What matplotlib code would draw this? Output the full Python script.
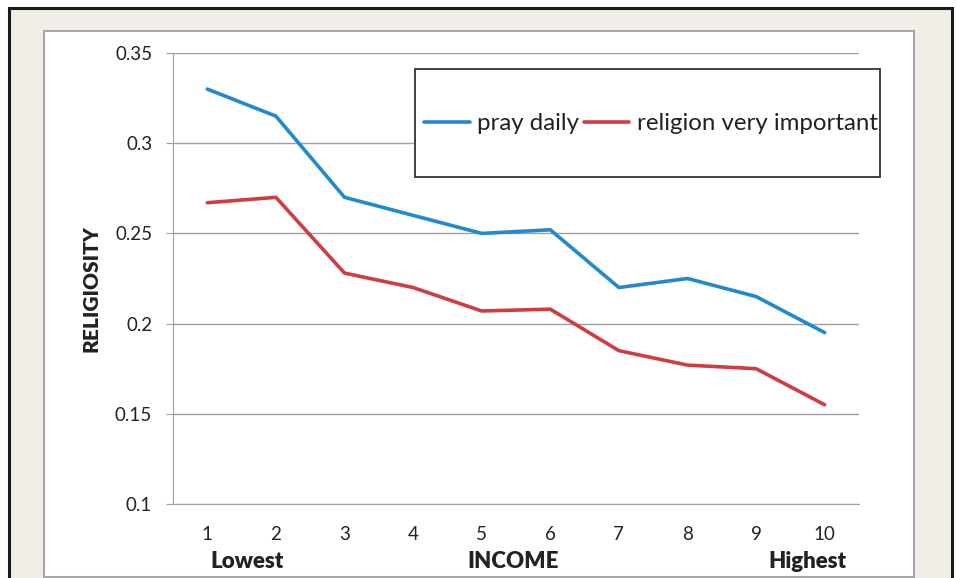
import matplotlib
matplotlib.use("Agg")
import matplotlib.pyplot as plt
from matplotlib.patches import Rectangle

plt.rcParams['font.family'] = ['Lato', 'DejaVu Sans']

# data
income = [1, 2, 3, 4, 5, 6, 7, 8, 9, 10]
pray_daily = [0.330, 0.315, 0.270, 0.260, 0.250, 0.252, 0.220, 0.225, 0.215, 0.195]
religion_important = [0.267, 0.270, 0.228, 0.220, 0.207, 0.208, 0.185, 0.177, 0.175, 0.155]
y_ticks = [0.1, 0.15, 0.2, 0.25, 0.3, 0.35]
y_tick_labels = ["0.1", "0.15", "0.2", "0.25", "0.3", "0.35"]

W, H = 957, 578


def fx(px):
    return px / W


def fy(py):
    return 1 - py / H


fig = plt.figure(figsize=(W / 100, H / 100), dpi=100)
fig.patch.set_facecolor("white")

# outer black frame with beige fill
fig.patches.append(Rectangle((fx(9), fy(H + 20)), fx(952) - fx(9), fy(8) - fy(H + 20),
                             transform=fig.transFigure, facecolor="#f1eee8",
                             edgecolor="#1a1a1a", linewidth=2.2, zorder=-2))
# inner white chart area
fig.patches.append(Rectangle((fx(43.5), fy(577)), fx(914) - fx(43.5), fy(31) - fy(577),
                             transform=fig.transFigure, facecolor="white",
                             edgecolor="#a6a6a6", linewidth=1.5, zorder=-1))

ax = fig.add_axes([fx(173), fy(504), fx(859) - fx(173), fy(53) - fy(504)])
ax.set_facecolor("none")
ax.set_zorder(1)

ax.plot(income, pray_daily, color="#2389cf", lw=2.6, label="pray daily", solid_capstyle="round")
ax.plot(income, religion_important, color="#d03d41", lw=2.6, label="religion very important",
        solid_capstyle="round")

ax.set_xlim(0.5, 10.5)
ax.set_ylim(0.1, 0.35)
ax.set_yticks(y_ticks)
ax.set_yticklabels(y_tick_labels)
ax.set_xticks(income)
ax.grid(axis="y", color="#a0a0a0", lw=1)
ax.set_axisbelow(True)
for s in ["top", "right"]:
    ax.spines[s].set_visible(False)
ax.spines["left"].set_color("#a0a0a0")
ax.spines["bottom"].set_color("#a0a0a0")
ax.tick_params(axis="y", length=5, color="#a0a0a0", labelsize=13.5, pad=10, labelcolor="#222222")
ax.tick_params(axis="x", length=0, labelsize=13.5, pad=16, labelcolor="#222222")

# legend box, drawn over the gridlines
fig.patches.append(Rectangle((fx(415), fy(177)), fx(880) - fx(415), fy(69) - fy(177),
                             transform=fig.transFigure, facecolor="white",
                             edgecolor="#333333", linewidth=1.3, zorder=3))
leg = fig.legend(loc="center left", bbox_to_anchor=(fx(424), fy(124)), ncol=2, frameon=False,
                 fontsize=17.3, handlelength=1.9, handletextpad=0.3, columnspacing=0.2,
                 borderpad=0, borderaxespad=0)
leg.set_zorder(4)
for t in leg.get_texts():
    t.set_color("#222222")

fig.text(fx(91), fy(289), "RELIGIOSITY", rotation=90, ha="center", va="center",
         fontsize=15, fontweight="heavy", color="#222222")
fig.text(fx(247), fy(561), "Lowest", ha="center", va="center", fontsize=16,
         fontweight="heavy", color="#222222")
fig.text(fx(513), fy(561), "INCOME", ha="center", va="center", fontsize=16,
         fontweight="heavy", color="#222222")
fig.text(fx(807), fy(561), "Highest", ha="center", va="center", fontsize=16,
         fontweight="heavy", color="#222222")

fig.savefig("out.png", dpi=100)
